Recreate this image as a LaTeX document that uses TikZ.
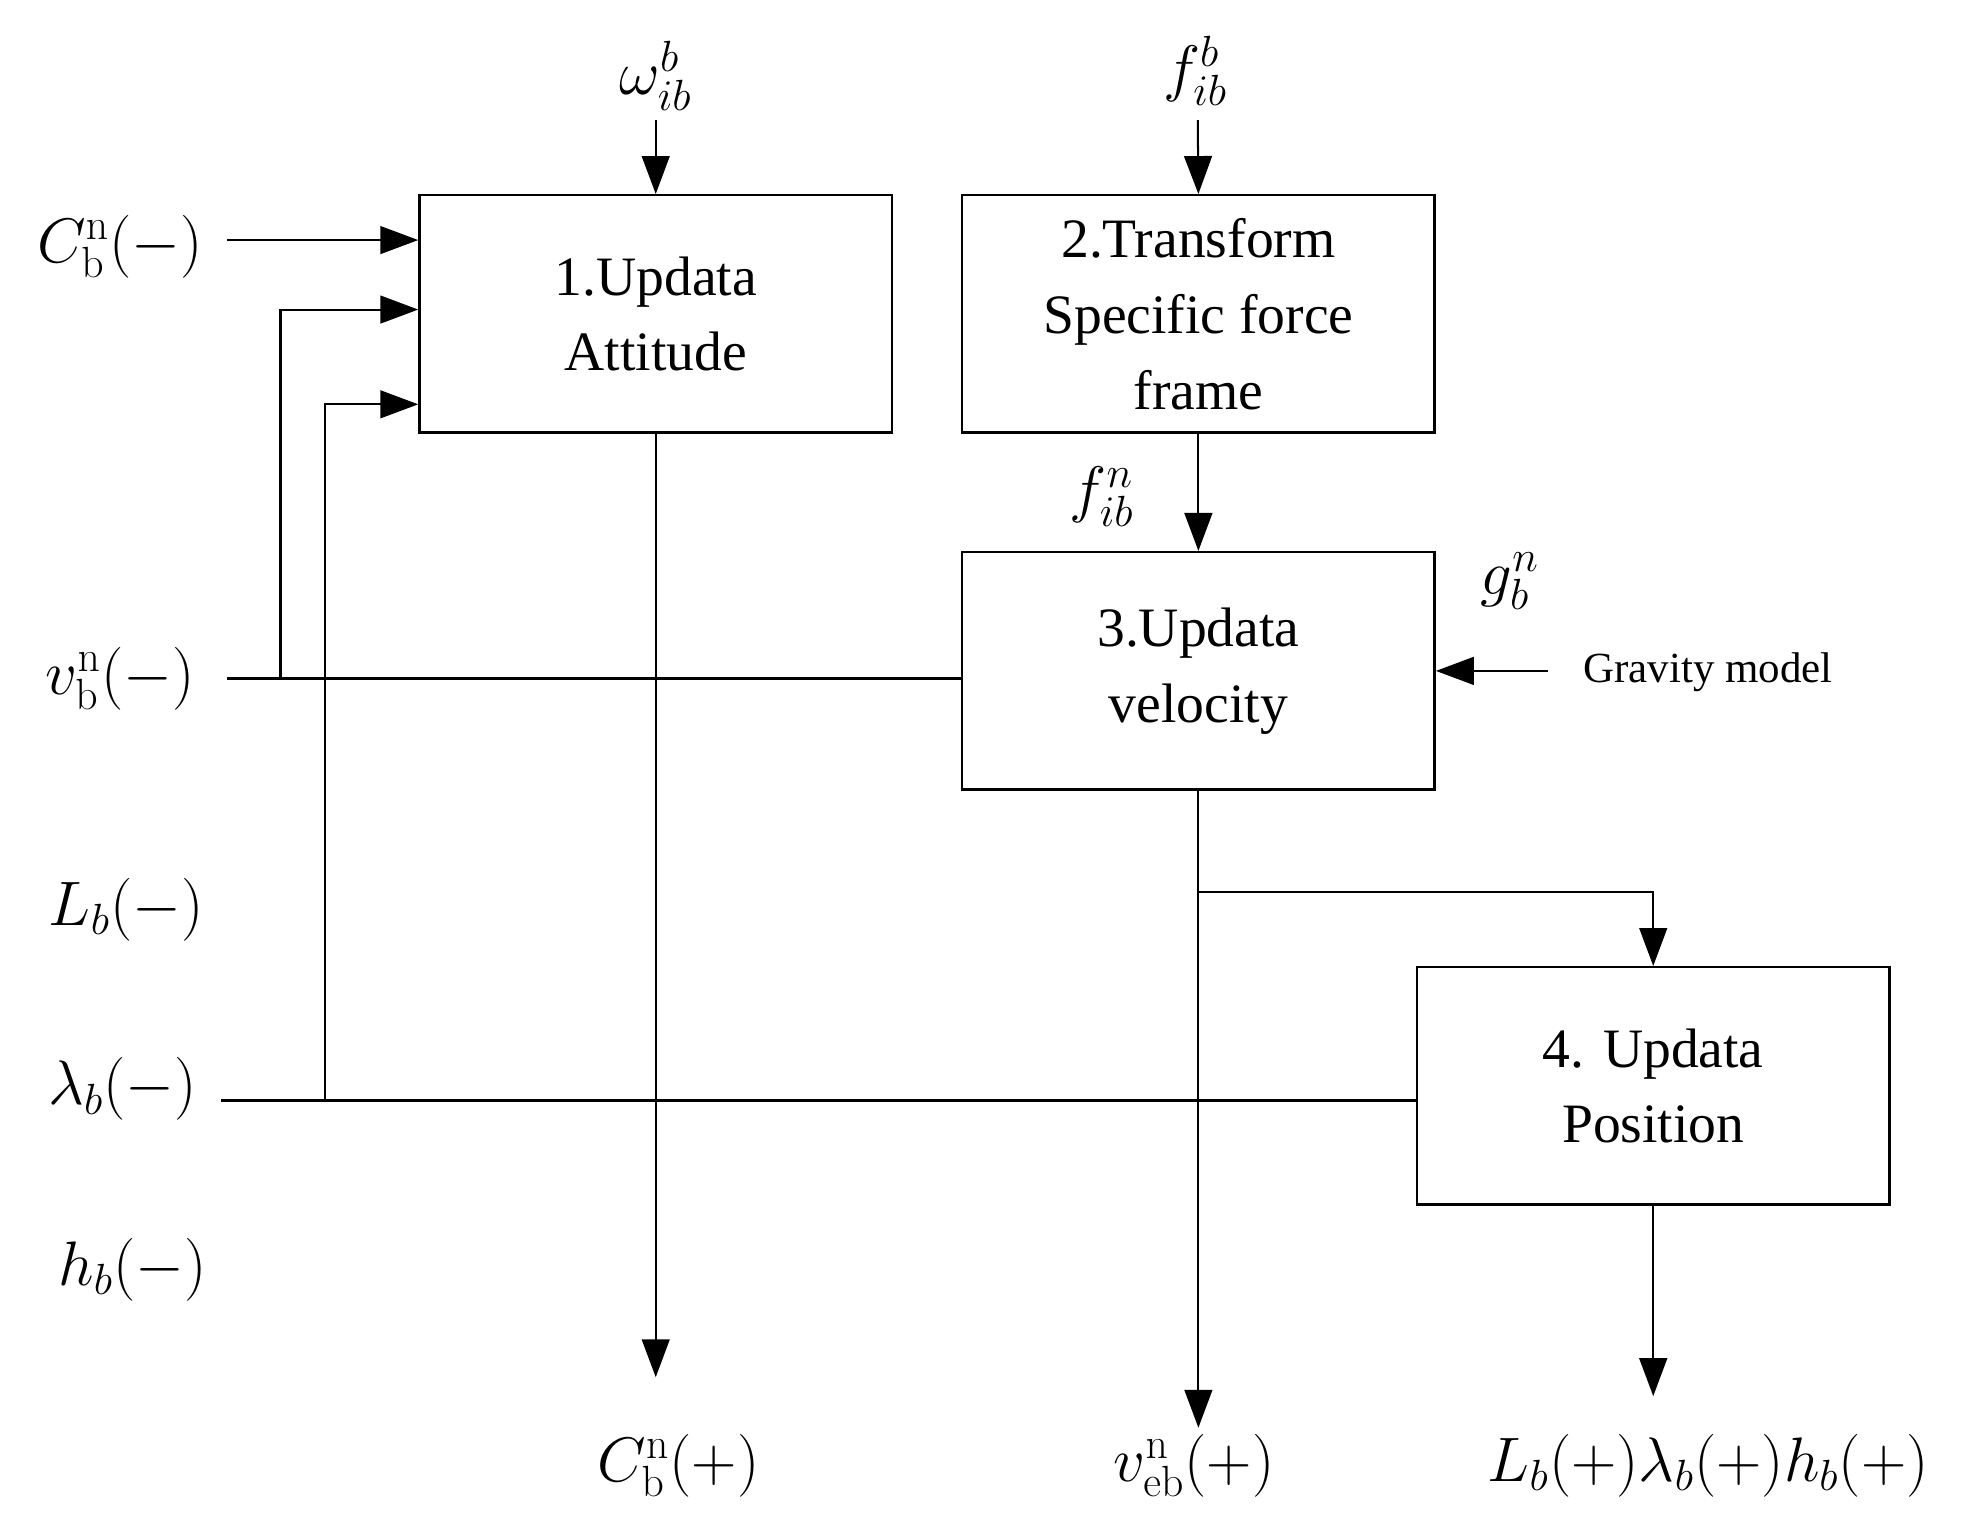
\documentclass[tikz,border=0pt]{standalone}
\usepackage[no-math]{fontspec}
\setmainfont{Liberation Serif}
\usetikzlibrary{arrows.meta}
\begin{document}
\begin{tikzpicture}[x=0.5pt,y=-0.5pt,
 box/.style={draw,line width=1pt,minimum width=187pt,minimum height=94pt,align=center,font=\fontsize{22}{30}\selectfont,inner sep=0pt},
 lab/.style={font=\fontsize{25}{28}\selectfont,inner sep=0pt},
 arr/.style={line width=0.8pt,-{Triangle[length=15pt,width=11pt]}},
 ln/.style={line width=0.8pt}]
\useasboundingbox (0,0) rectangle (1560,1212.5);
\node[box] (b1) at (519,248.5) {1.Updata\\Attitude};
\node[box] (b2) at (948.5,248.5) {2.Transform\\Specific force\\frame};
\node[box] (b3) at (948.5,531) {3.Updata\\velocity};
\node[box] (b4) at (1308.5,859.5) {4. Updata\\Position};
\node[lab] (w) at (519,60) {$\omega_{ib}^{b}$};
\node[lab] (fb) at (946,56) {$f_{ib}^{b}$};
\node[lab] (fn) at (872,393) {$f_{ib}^{n}$};
\node[lab] (g) at (1195,460) {$g_{b}^{n}$};
\node[lab,font=\fontsize{17}{20}\selectfont] (grav) at (1352,532) {Gravity model};
\node[lab] (cm) at (95,195) {$C_{\mathrm{b}}^{\mathrm{n}}(-)$};
\node[lab] (vm) at (95,537) {$v_{\mathrm{b}}^{\mathrm{n}}(-)$};
\node[lab] (Lm) at (100,720) {$L_b(-)$};
\node[lab] (lm) at (97,862) {$\lambda_b(-)$};
\node[lab] (hm) at (105,1005) {$h_b(-)$};
\node[lab] (cp) at (537,1160) {$C_{\mathrm{b}}^{\mathrm{n}}(+)$};
\node[lab] (vp) at (945,1160) {$v_{\mathrm{eb}}^{\mathrm{n}}(+)$};
\node[lab] (pp) at (1352,1160) {$L_b(+)\lambda_b(+)h_b(+)$};
\coordinate (wa) at (519,95);
\coordinate (fa) at (948,95);
\draw[arr] (wa) -- (b1.north);
\draw[arr] (fa) -- (b2.north);
\coordinate (c0) at (180,190);
\draw[arr] (c0) -- (b1.west |- c0);
\coordinate (v0) at (180,537);
\coordinate (v1) at (222,537);
\coordinate (v2) at (222,245);
\draw[ln] (v0) -- (b3.west |- v0);
\draw[arr] (v1) -- (v2) -- (b1.west |- v2);
\coordinate (l0) at (175,871);
\coordinate (l1) at (257,871);
\coordinate (l2) at (257,320);
\draw[ln] (l0) -- (b4.west |- l0);
\draw[arr] (l1) -- (l2) -- (b1.west |- l2);
\coordinate (c1) at (519,1090);
\draw[arr] (b1.south) -- (c1);
\draw[arr] (b2.south) -- (b3.north);
\coordinate (v3) at (948.5,1130);
\draw[arr] (b3.south) -- (v3);
\coordinate (br) at (948.5,706);
\coordinate (br2) at (1308.5,706);
\draw[arr] (br) -- (br2) -- (b4.north);
\coordinate (ga) at (1225,531);
\draw[arr] (ga) -- (b3.east);
\coordinate (p1) at (1308.5,1105);
\draw[arr] (b4.south) -- (p1);
\end{tikzpicture}
\end{document}
